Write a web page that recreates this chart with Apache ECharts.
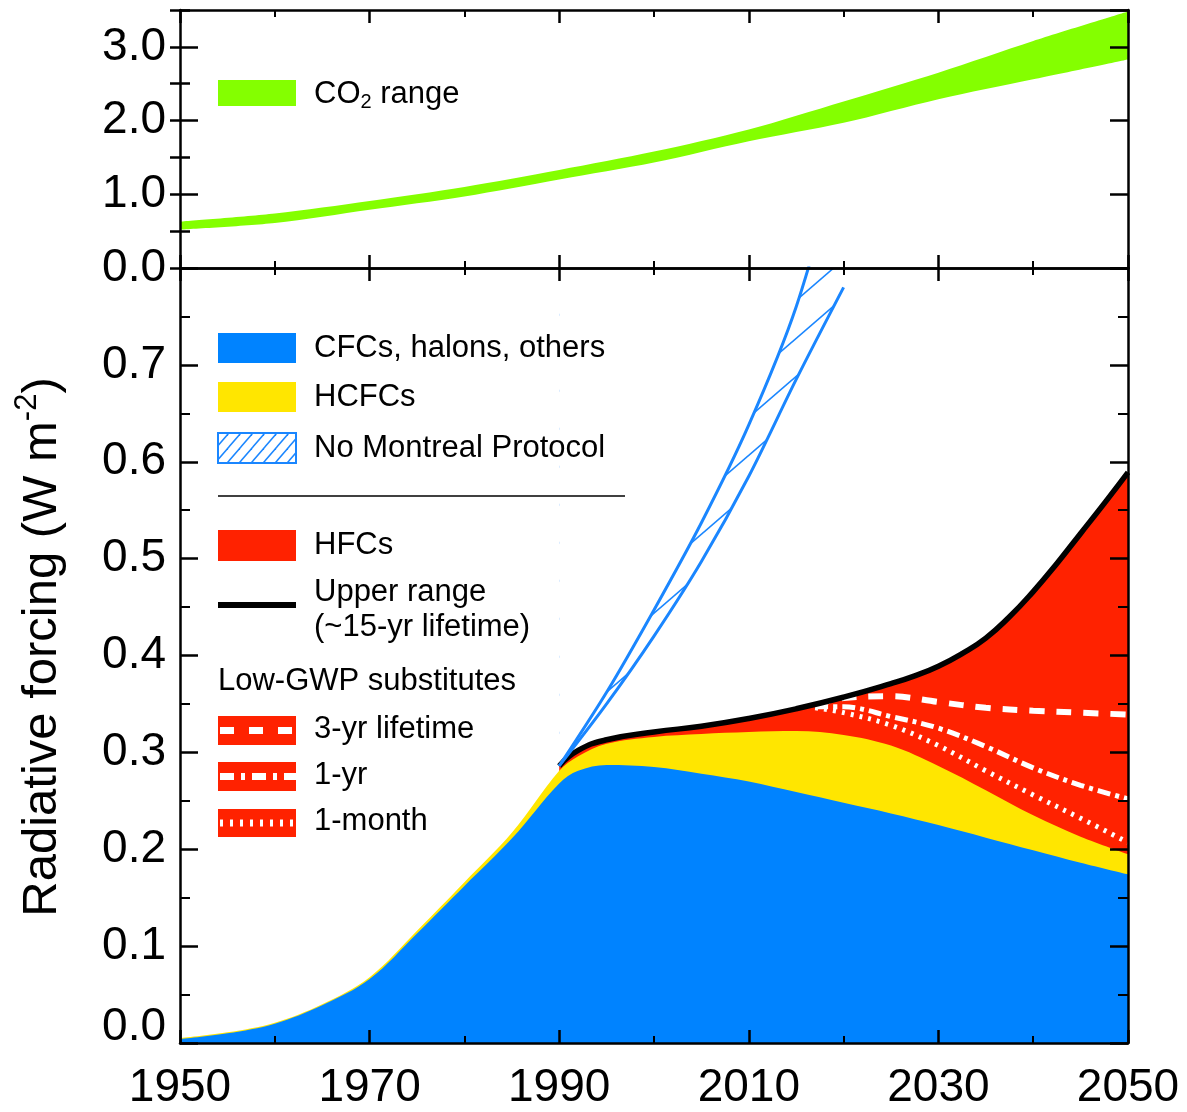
<!DOCTYPE html>
<html>
<head>
<meta charset="utf-8">
<script src="https://cdn.jsdelivr.net/npm/echarts@6/dist/echarts.min.js"></script>
<style>
  html, body { margin: 0; padding: 0; background: #fff; }
  #chart { width: 1187px; height: 1112px; }
</style>
</head>
<body>
<div id="chart"></div>
<script>
const FONT = "Liberation Sans"

// top panel: CO2 forcing range (W m-2)
const co2Years = [1950, 1960, 1970, 1980, 1990, 2000, 2010, 2020, 2030, 2040, 2050]
const co2Low = [0.52, 0.61, 0.79, 0.97, 1.20, 1.43, 1.72, 1.97, 2.29, 2.56, 2.83]
const co2High = [0.63, 0.74, 0.91, 1.10, 1.33, 1.58, 1.88, 2.26, 2.65, 3.08, 3.48]

// bottom panel: top edge of each stacked band
const years = [1950, 1955, 1960, 1965, 1970, 1975, 1980, 1985, 1990, 1992, 1995, 2000, 2005, 2010, 2015, 2020, 2025, 2030, 2035, 2040, 2045, 2050]
const cfcTop = [0.004, 0.010, 0.020, 0.039, 0.066, 0.113, 0.162, 0.211, 0.268, 0.281, 0.287, 0.285, 0.278, 0.270, 0.259, 0.248, 0.237, 0.225, 0.212, 0.199, 0.186, 0.174]
const hcfcTop = [0.005, 0.011, 0.021, 0.040, 0.068, 0.116, 0.166, 0.217, 0.281, 0.296, 0.309, 0.316, 0.319, 0.321, 0.322, 0.318, 0.307, 0.286, 0.261, 0.235, 0.213, 0.195]

// HFC upper range (~15-yr lifetime), black line = top of the red band
const hfcYears = [1990, 1992, 1995, 2000, 2005, 2010, 2015, 2020, 2025, 2027.5, 2030, 2032.5, 2035, 2037.5, 2040, 2042.5, 2045, 2047.5, 2050]
const hfcTop = [0.286, 0.302, 0.313, 0.321, 0.327, 0.335, 0.345, 0.357, 0.371, 0.379, 0.389, 0.402, 0.418, 0.440, 0.466, 0.495, 0.526, 0.557, 0.589]

// low-GWP substitutes
const subYears = [2017, 2020, 2025, 2030, 2035, 2040, 2045, 2050]
const sub3yr = [0.349, 0.356, 0.358, 0.352, 0.346, 0.343, 0.341, 0.339]
const sub1yr = [0.347, 0.347, 0.337, 0.325, 0.306, 0.284, 0.266, 0.252]
const sub1month = [0.346, 0.341, 0.328, 0.307, 0.281, 0.256, 0.232, 0.207]

// no Montreal Protocol (hatched band)
const nmpYears = [1990, 1995, 2000, 2005, 2010, 2015, 2020]
const nmpLow = [0.286, 0.350, 0.420, 0.497, 0.585, 0.685, 0.780]
const nmpHigh = [0.286, 0.362, 0.447, 0.537, 0.638, 0.760, 0.930]

const BLUE = "#0083ff"
const LINEBLUE = "#1a86ff"
const YELLOW = "#ffe600"
const RED = "#ff2200"
const GREEN = "#84ff00"

const xy = (ys, vs) => ys.map((y, i) => [y - 1950, vs[i]])

function hatch(w, h, color, lw) {
  const c = document.createElement("canvas")
  c.width = w
  c.height = h
  const ctx = c.getContext("2d")
  ctx.strokeStyle = color
  ctx.lineWidth = lw
  for (const dx of [-w, 0, w]) {
    ctx.beginPath()
    ctx.moveTo(-w + dx, 2 * h)
    ctx.lineTo(2 * w + dx, -h)
    ctx.stroke()
  }
  return c
}

const chart = echarts.init(document.getElementById("chart"))

function xAx(grid, pos, labels) {
  return {
    type: "value", gridIndex: grid, position: pos, min: 0, max: 100, interval: 20, z: 10,
    axisLine: { show: true, onZero: false, lineStyle: { color: "#000", width: 2.5 } },
    axisTick: { show: true, inside: true, length: 13, lineStyle: { color: "#000", width: 2.5 } },
    minorTick: { show: true, splitNumber: 2, length: 7, lineStyle: { color: "#000", width: 2 } },
    splitLine: { show: false },
    minorSplitLine: { show: false },
    axisLabel: labels
      ? { show: true, margin: 22, color: "#000", fontFamily: FONT, fontSize: 46, formatter: (v) => String(v + 1950) }
      : { show: false }
  }
}

function yAx(grid, pos, max, interval, tickLen, opts) {
  return Object.assign({
    type: "value", gridIndex: grid, position: pos, min: 0, max: max, interval: interval, z: 10,
    axisLine: { show: true, onZero: false, lineStyle: { color: "#000", width: 2.5 } },
    axisTick: { show: true, inside: true, length: tickLen, lineStyle: { color: "#000", width: 2.5 } },
    splitLine: { show: false },
    minorSplitLine: { show: false },
    axisLabel: { show: false }
  }, opts || {})
}

const yLabel = { show: true, margin: 14, color: "#000", fontFamily: FONT, fontSize: 46 }

// filled area under a curve; later series paint over earlier ones
const area = (name, grid, data, color, smooth, origin) => ({
  name: name, type: "line", xAxisIndex: grid === 0 ? 0 : 2, yAxisIndex: grid === 0 ? 0 : 4,
  data: data, symbol: "none", smooth: smooth,
  lineStyle: { opacity: 0 },
  areaStyle: { color: color, opacity: 1, origin: origin || "start" }
})
const curve = (name, data, color, width, type, smooth) => ({
  name: name, type: "line", xAxisIndex: 2, yAxisIndex: 4,
  data: data, symbol: "none", smooth: smooth,
  lineStyle: { color: color, width: width, type: type }
})

const legendText = (text, x, y) => ({
  type: "text", x: x, y: y, z: 100,
  style: { text: text, fontFamily: FONT, fontSize: 31, fill: "#000", verticalAlign: "middle" }
})
const legendRect = (y, h, fill, extra) => ({
  type: "rect", z: 100, shape: { x: 218, y: y, width: 78, height: h },
  style: Object.assign({ fill: fill }, extra || {})
})
const legendLine = (y, style) => ({
  type: "line", z: 101, shape: { x1: 218, y1: y, x2: 296, y2: y },
  style: style
})

const hatchFill = { image: hatch(44, 38, LINEBLUE, 1.6), repeat: "repeat" }

const options = {
  animation: false,
  grid: [
    { left: 180, right: 59, top: 10, height: 258, containLabel: false, outerBoundsMode: "none" },
    { left: 180, right: 59, top: 268, height: 775, containLabel: false, outerBoundsMode: "none" }
  ],
  xAxis: [
    xAx(0, "bottom", false),
    xAx(0, "top", false),
    xAx(1, "bottom", true),
    xAx(1, "top", false)
  ],
  yAxis: [
    yAx(0, "left", 3.5, 1, 18, {
      axisLabel: Object.assign({}, yLabel, { showMaxLabel: false, formatter: (v) => v.toFixed(1) })
    }),
    yAx(0, "left", 3.5, 0.5, 10, { axisLine: { show: false } }),
    yAx(0, "right", 3.5, 1, 18),
    yAx(0, "right", 3.5, 0.5, 10, { axisLine: { show: false } }),
    yAx(1, "left", 0.8, 0.1, 18, {
      minorTick: { show: true, splitNumber: 2, length: 10, lineStyle: { color: "#000", width: 2 } },
      axisLabel: Object.assign({}, yLabel, {
        showMaxLabel: false,
        formatter: (v) => (v === 0 ? "{z|0.0}" : v.toFixed(1)),
        rich: { z: { fontFamily: FONT, fontSize: 46, color: "#000", padding: [0, 0, 32, 0] } }
      })
    }),
    yAx(1, "right", 0.8, 0.1, 18, {
      minorTick: { show: true, splitNumber: 2, length: 10, lineStyle: { color: "#000", width: 2 } }
    })
  ],
  series: [
    // CO2 range: green up to the high edge, white below the low edge
    area("CO2 range", 0, xy(co2Years, co2High), GREEN, 0.3),
    area("co2 low", 0, xy(co2Years, co2Low), "#fff", 0.3),

    // ODS + HFC totals, painted top band first
    area("HFCs", 1, xy(hfcYears, hfcTop), RED, 0.5),
    area("HCFCs", 1, xy(years, hcfcTop), YELLOW, 0.35),
    area("CFCs, halons, others", 1, xy(years, cfcTop), BLUE, 0.35),

    // low-GWP substitutes
    curve("3-yr lifetime", xy(subYears, sub3yr), "#fff", 6, [15, 12], 0.35),
    curve("1-yr", xy(subYears, sub1yr), "#fff", 5, [13, 5, 4, 5], 0.35),
    curve("1-month", xy(subYears, sub1month), "#fff", 5, [3, 6], 0.35),

    // upper range
    curve("Upper range", xy(hfcYears, hfcTop), "#000", 5.5, "solid", 0.5),

    // no Montreal Protocol: hatch above the low edge, cleared above the high edge
    Object.assign(area("No Montreal Protocol", 1, xy(nmpYears, nmpLow), hatchFill, 0.3, "end"),
      { lineStyle: { color: LINEBLUE, width: 3 } }),
    Object.assign(area("nmp high", 1, xy(nmpYears, nmpHigh), "#fff", 0.3, "end"),
      { lineStyle: { color: LINEBLUE, width: 3 } })
  ],
  graphic: [
    // y-axis title
    {
      type: "text", x: 42, y: 647, rotation: Math.PI / 2, z: 100,
      style: {
        text: "{a|Radiative forcing (W m}{b|-2}{a|)}",
        align: "center", verticalAlign: "middle",
        rich: {
          a: { fontFamily: FONT, fontSize: 49, fill: "#000", lineHeight: 60 },
          b: { fontFamily: FONT, fontSize: 31, fill: "#000", lineHeight: 20, verticalAlign: "top" }
        }
      }
    },
    // top legend
    legendRect(80, 26, GREEN),
    {
      type: "text", x: 314, y: 94, z: 100,
      style: {
        text: "{a|CO}{s|2}{a| range}", verticalAlign: "middle",
        rich: {
          a: { fontFamily: FONT, fontSize: 31, fill: "#000", lineHeight: 36 },
          s: { fontFamily: FONT, fontSize: 20, fill: "#000", lineHeight: 16, verticalAlign: "bottom" }
        }
      }
    },
    // bottom legend
    legendRect(333, 30, BLUE),
    legendText("CFCs, halons, others", 314, 348),
    legendRect(382, 30, YELLOW),
    legendText("HCFCs", 314, 397),
    legendRect(433, 30, { image: hatch(12, 14, LINEBLUE, 1.5), repeat: "repeat" }, { stroke: LINEBLUE, lineWidth: 2 }),
    legendText("No Montreal Protocol", 314, 448),
    { type: "line", z: 100, shape: { x1: 218, y1: 496, x2: 625, y2: 496 }, style: { stroke: "#000", lineWidth: 1.5 } },
    legendRect(530, 31, RED),
    legendText("HFCs", 314, 545),
    legendLine(605, { stroke: "#000", lineWidth: 6 }),
    legendText("Upper range", 314, 592),
    legendText("(~15-yr lifetime)", 314, 627),
    legendText("Low-GWP substitutes", 218, 681),
    legendRect(716, 29, RED),
    legendLine(730.5, { stroke: "#fff", lineWidth: 7, lineDash: [14, 15], lineDashOffset: -2 }),
    legendText("3-yr lifetime", 314, 729),
    legendRect(762, 29, RED),
    legendLine(776.5, { stroke: "#fff", lineWidth: 7, lineDash: [14, 7, 4, 7], lineDashOffset: -2 }),
    legendText("1-yr", 314, 775),
    legendRect(809, 28, RED),
    legendLine(823, { stroke: "#fff", lineWidth: 7, lineDash: [3, 7], lineDashOffset: -2 }),
    legendText("1-month", 314, 821)
  ]
}

chart.setOption(options)
</script>
</body>
</html>
